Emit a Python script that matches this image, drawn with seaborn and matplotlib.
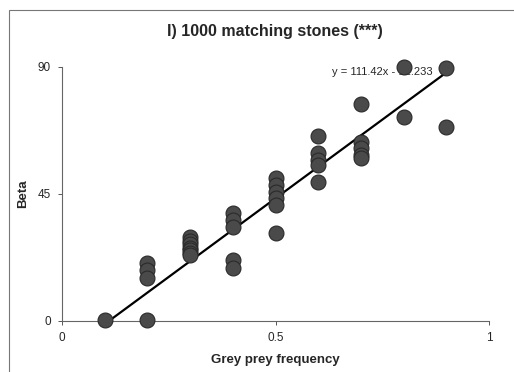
import numpy as np
import pandas as pd
import matplotlib
matplotlib.use("Agg")
import matplotlib.pyplot as plt
import seaborn as sns
from matplotlib.patches import Rectangle

# Data
grey_freq = [0.1,
             0.2, 0.2, 0.2, 0.2,
             0.3, 0.3, 0.3, 0.3, 0.3, 0.3, 0.3,
             0.4, 0.4, 0.4, 0.4, 0.4,
             0.5, 0.5, 0.5, 0.5, 0.5, 0.5,
             0.6, 0.6, 0.6, 0.6, 0.6,
             0.7, 0.7, 0.7, 0.7, 0.7,
             0.8, 0.8,
             0.9, 0.9]
beta = [0.3,
        0.3, 20.4, 18.1, 15.2,
        29.8, 28.4, 27.2, 26.0, 25.0, 24.2, 23.4,
        38.2, 35.8, 33.4, 21.6, 18.7,
        50.6, 48.2, 45.8, 43.5, 41.1, 31.3,
        65.6, 59.4, 57.0, 55.3, 49.4,
        76.8, 63.5, 61.2, 58.8, 57.6,
        90.1, 72.4,
        89.5, 68.8]
fit_slope = 111.42
fit_intercept = -12.233
fit_x_range = [0.1, 0.9]
x_ticks = [0, 0.5, 1]
x_tick_labels = ["0", "0.5", "1"]
y_ticks = [0, 45, 90]
y_tick_labels = ["0", "45", "90"]

df = pd.DataFrame({"freq": grey_freq, "beta": beta})
fit_df = pd.DataFrame({"freq": fit_x_range,
                       "beta": [fit_slope * v + fit_intercept for v in fit_x_range]})

sns.set_style("white")
plt.rcParams['font.family'] = ['Liberation Sans', 'DejaVu Sans']

fig = plt.figure(figsize=(5.14, 3.72), dpi=100)
ax = fig.add_axes([0.1206, 0.1371, 0.8308, 0.6828])

sns.lineplot(data=fit_df, x="freq", y="beta", ax=ax, color="black", lw=1.6, zorder=2)
ax.text(0.632, 88.3, "y = 111.42x - 12.233", fontsize=8, ha="left", va="center", zorder=1)
sns.scatterplot(data=df, x="freq", y="beta", ax=ax, s=115, color="#4a4a4a",
                edgecolor="#2a2a2a", linewidth=0.8, zorder=3, clip_on=False)

ax.set_xlim(0, 1)
ax.set_ylim(0, 90)
ax.set_xticks(x_ticks)
ax.set_xticklabels(x_tick_labels)
ax.set_yticks(y_ticks)
ax.set_yticklabels(y_tick_labels)
ax.tick_params(axis="both", labelsize=8.5, length=3, width=0.7, color="#555555",
               direction="out", bottom=True, left=True, pad=5)
for side in ["top", "right"]:
    ax.spines[side].set_visible(False)
for side in ["left", "bottom"]:
    ax.spines[side].set_color("#666666")
    ax.spines[side].set_linewidth(0.8)

ax.set_xlabel("Grey prey frequency", fontsize=9.5, fontweight="bold", labelpad=7)
ax.set_ylabel("Beta", fontsize=9.5, fontweight="bold", labelpad=6)
fig.text(0.535, 0.916, "I) 1000 matching stones (***)", fontsize=11.5,
         fontweight="bold", ha="center", va="center")

# chart-area border
fig.patches.append(Rectangle((9 / 514, -0.05), 1.0, 1 - 10 / 372 + 0.05,
                             transform=fig.transFigure, fill=False,
                             edgecolor="#777777", lw=0.8))

fig.savefig("out.png", dpi=100)
